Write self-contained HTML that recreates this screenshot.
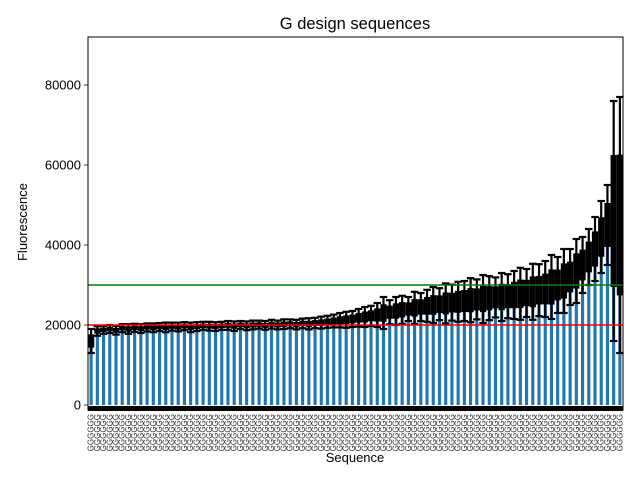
<!DOCTYPE html>
<html><head><meta charset="utf-8"><style>
body{margin:0;background:#fff}
svg{font-family:"Liberation Sans","DejaVu Sans",sans-serif}
</style></head><body>
<svg id="c" width="640" height="480" viewBox="0 0 640 480" xmlns="http://www.w3.org/2000/svg">
<rect width="640" height="480" fill="#fff"/>
<text x="355" y="29" font-size="16.5" text-anchor="middle">G design sequences</text>
<text x="355" y="462" font-size="13" text-anchor="middle">Sequence</text>
<text transform="translate(27,222) rotate(-90)" font-size="13" text-anchor="middle">Fluorescence</text>
<g id="bars"></g>
<g id="errs"></g>
<g id="xt"></g>
<g id="yt"></g>
</svg>
<script>
const values=[16000,18500,18800,19000,18700,19200,19000,19300,19100,19400,
19300,19500,19400,19600,19500,19700,19400,19600,19800,19700,
19600,19800,19900,19700,20000,19800,20000,20100,19900,20200,
20000,20200,20300,20100,20400,20300,20500,20600,20800,21000,
21200,21300,21500,21800,22000,22300,22500,23000,23200,23500,
23800,24000,24300,24500,24800,25000,25200,25400,25600,25800,
26000,26200,26400,26500,26700,26900,27000,27200,27500,27800,
28000,28300,28700,29000,29500,30000,31000,32000,33500,35000,
37000,39000,42000,45000,46000,45000];
const errors=[3000,1200,1000,1000,1100,1000,1200,1000,1100,1000,
1100,1000,1200,1000,1100,1000,1200,1100,1000,1100,
1100,1000,1100,1200,1000,1100,1100,1000,1100,1100,
1100,1200,1100,1200,1200,1400,1300,1500,1500,1600,
1800,2000,2000,2200,2500,2500,3000,4000,3000,3500,
3500,3000,4000,3500,4000,4500,4000,5000,4500,5000,
5000,5500,5000,6000,5500,5000,6000,5500,6000,6500,
6000,7000,6500,7000,8000,7000,8000,7000,8000,7000,
7000,8000,9000,10000,30000,32000];
const yTicks=[0,20000,40000,60000,80000];
const refLines=[20000,30000];
const L=88,R=623,T=37,B=410,yMin=-1250,yMax=92000;
const ys=v=>B-(v-yMin)/(yMax-yMin)*(B-T);
const n=values.length, step=(R-L)/n;
const xs=i=>L+step*(i+0.5);
const NS="http://www.w3.org/2000/svg";
function mk(tag,attrs,parent){const e=document.createElementNS(NS,tag);for(const k in attrs)e.setAttribute(k,attrs[k]);parent.appendChild(e);return e;}
const bars=document.getElementById('bars'),errs=document.getElementById('errs'),xt=document.getElementById('xt'),yt=document.getElementById('yt'),svg=document.getElementById('c');
values.forEach((v,i)=>{
 const b=mk('rect',{x:xs(i)-step/4,y:ys(v),width:step/2,height:ys(0)-ys(v),fill:'#1f77b4'},bars);
 
 
});
values.forEach((v,i)=>{
 const e=errors[i],x=xs(i);
 const g=mk('g',{stroke:'#000','stroke-width':2.2},errs);
 
 
 mk('rect',{x:x-step*0.5,y:ys(v+e*0.55),width:step,height:ys(v-e*0.55)-ys(v+e*0.55),fill:'#000',stroke:'none'},g);
 mk('line',{x1:x,x2:x,y1:ys(v-e),y2:ys(v+e)},g);
 mk('line',{x1:x-step*0.6,x2:x+step*0.6,y1:ys(v-e),y2:ys(v-e)},g);
 mk('line',{x1:x-step*0.6,x2:x+step*0.6,y1:ys(v+e),y2:ys(v+e)},g);
});
refLines.forEach((r,k)=>{
 const l=mk('line',{x1:L,x2:R,y1:ys(r),y2:ys(r),stroke:k?'#008000':'#ff0000','stroke-width':1.6},svg);
 
 
});
const band=mk('rect',{x:L,y:B-4,width:R-L,height:5,fill:'#000'},xt);


values.forEach((v,i)=>{
 const t=mk('text',{transform:`translate(${xs(i)+2.5},414) rotate(-90)`,'font-size':8,'text-anchor':'end',fill:'#333'},xt);
 t.textContent='GGGGGG';
 
 
});
yTicks.forEach(t=>{
 const y=ys(t);
 mk('line',{x1:L-4,x2:L,y1:y,y2:y,stroke:'#000','stroke-width':0.8},yt);
 const tx=mk('text',{x:L-7,y:y+4.5,'font-size':13,'text-anchor':'end'},yt);
 tx.textContent=t;
 
 
});
const fr=mk('rect',{x:L,y:T,width:R-L,height:B-T,fill:'none',stroke:'#000','stroke-width':1},svg);


</script>
</body></html>
